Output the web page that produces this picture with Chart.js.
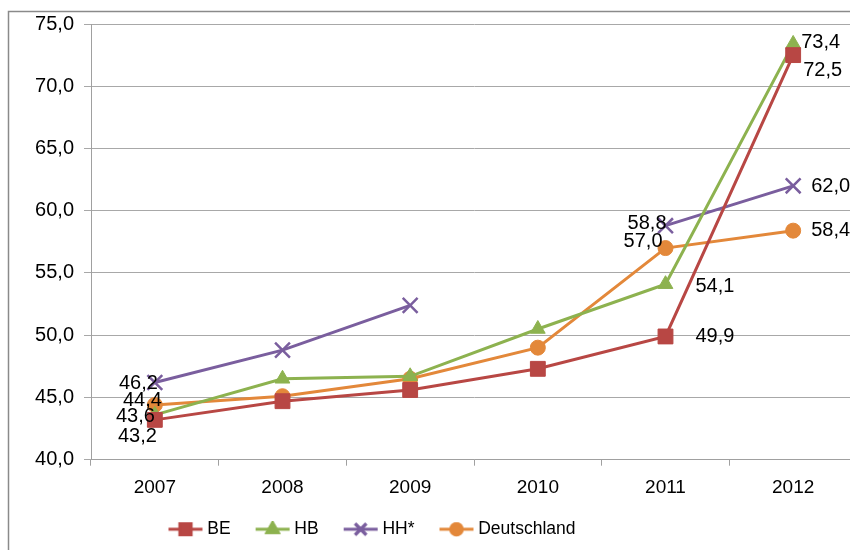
<!DOCTYPE html>
<html lang="de">
  <head>
    <meta charset="UTF-8" />
    <title>BE, HB, HH* und Deutschland 2007-2012</title>
    <script src="https://cdn.jsdelivr.net/npm/chart.js"></script>
    <style>
      html, body { margin: 0; padding: 0; background: #fff; overflow: hidden; }
      .wrap { position: relative; width: 870px; height: 550px; }
    </style>
  </head>
  <body>
    <div class="wrap">
      <canvas id="lineChart" width="870" height="550"></canvas>
    </div>

    <script>
      // data
      const years = ["2007", "2008", "2009", "2010", "2011", "2012"];
      const seriesNames = ["BE", "HB", "HH*", "Deutschland"];
      const valuesBE = [43.2, 44.7, 45.6, 47.3, 49.9, 72.5];
      const valuesHB = [43.6, 46.5, 46.7, 50.5, 54.1, 73.4];
      const valuesHH = [46.2, 48.8, 52.4, null, 58.8, 62.0];
      const valuesDE = [44.4, 45.1, 46.5, 49.0, 57.0, 58.4];
      const yTicks = [40, 45, 50, 55, 60, 65, 70, 75];
      const labelledIndexes = [0, 4, 5];

      const colors = ["#B84744", "#8DB24F", "#7A5E9E", "#E3883A"];
      const pointStyles = ["rect", "triangle", "crossRot", "circle"];
      const pointSizes = [10.5, 8.5, 10.5, 7.5];

      // where each value label sits relative to its point
      const labelSpots = [
        { 0: [2, 17, "right"], 4: [30, 0, "left"], 5: [10, 15, "left"] },
        { 0: [0, 2, "right"], 4: [30, 2, "left"], 5: [8, -1, "left"] },
        { 0: [3, 1, "right"], 4: [1, -2, "right"], 5: [18, 1, "left"] },
        { 0: [7, -4, "right"], 4: [-3, -7, "right"], 5: [18, 0, "left"] },
      ];

      const fontFamily = "'Liberation Sans', Arial, sans-serif";
      const fmt = (v) => v.toFixed(1).replace(".", ",");

      // little line + marker picture for the legend
      function legendIcon(i) {
        const c = document.createElement("canvas");
        c.width = 36;
        c.height = 16;
        const g = c.getContext("2d");
        g.strokeStyle = colors[i];
        g.fillStyle = colors[i];
        g.lineWidth = 3;
        g.beginPath();
        g.moveTo(1, 8);
        g.lineTo(35, 8);
        g.stroke();
        Chart.helpers.drawPoint(g, { pointStyle: pointStyles[i], radius: pointSizes[i] * 0.75, borderWidth: 2 }, 18, 8);
        g.fill();
        g.stroke();
        return c;
      }

      const frame = {
        id: "frame",
        beforeDraw(chart) {
          const ctx = chart.ctx;
          ctx.save();
          ctx.strokeStyle = "#8a8a8a";
          ctx.lineWidth = 1.5;
          ctx.strokeRect(8.5, 11.5, 1000, 1000);
          ctx.restore();
        },
      };

      const valueLabels = {
        id: "valueLabels",
        afterDatasetsDraw(chart) {
          const ctx = chart.ctx;
          ctx.save();
          ctx.font = "20px " + fontFamily;
          ctx.fillStyle = "#000";
          ctx.textBaseline = "middle";
          chart.data.datasets.forEach((ds, di) => {
            const meta = chart.getDatasetMeta(di);
            labelledIndexes.forEach((i) => {
              const v = ds.data[i];
              const spot = labelSpots[di][i];
              if (v == null || !spot) return;
              const p = meta.data[i];
              ctx.textAlign = spot[2];
              ctx.fillText(fmt(v), p.x + spot[0], p.y + spot[1]);
            });
          });
          ctx.restore();
        },
      };

      // Excel centres the legend on a wider chart area than we can see
      const shiftLegend = {
        id: "shiftLegend",
        afterLayout(chart) {
          chart.legend.left -= 57;
          chart.legend.right -= 57;
          chart.legend.top -= 19;
          chart.legend.bottom -= 19;
        },
      };

      const allValues = [valuesBE, valuesHB, valuesHH, valuesDE];
      const datasets = seriesNames.map((name, i) => ({
        label: name,
        data: allValues[i],
        borderColor: colors[i],
        backgroundColor: colors[i],
        borderWidth: 3,
        pointStyle: pointStyles[i],
        pointRadius: pointSizes[i],
        pointHoverRadius: pointSizes[i],
        pointBorderWidth: i === 2 ? 2.5 : 1,
        spanGaps: false,
        tension: 0,
      }));

      const ctx = document.getElementById("lineChart").getContext("2d");
      const myLineChart = new Chart(ctx, {
        type: "line",
        data: { labels: years, datasets: datasets },
        options: {
          responsive: false,
          animation: false,
          layout: { padding: { top: 24, right: 8, bottom: -17, left: 0 } },
          plugins: {
            tooltip: { enabled: false },
            legend: {
              position: "bottom",
              labels: {
                usePointStyle: true,
                pointStyleWidth: 26,
                padding: 29,
                color: "#000",
                font: { family: fontFamily, size: 17.5 },
                generateLabels: (chart) =>
                  chart.data.datasets.map((ds, i) => ({
                    text: ds.label,
                    pointStyle: legendIcon(i),
                    fillStyle: colors[i],
                    strokeStyle: colors[i],
                    lineWidth: 0,
                    datasetIndex: i,
                    fontColor: "#000",
                  })),
              },
            },
          },
          scales: {
            x: {
              offset: true,
              grid: {
                offset: true,
                drawOnChartArea: false,
                tickLength: 6,
                color: "#a0a0a0",
              },
              border: { color: "#a0a0a0", width: 1 },
              ticks: {
                color: "#000",
                padding: 11,
                font: { family: fontFamily, size: 19 },
              },
            },
            y: {
              min: 40,
              max: 75,
              afterFit: (axis) => { axis.width = 91; },
              afterBuildTicks: (axis) => {
                axis.ticks = yTicks.map((v) => ({ value: v }));
              },
              grid: { color: "#a8a8a8", tickLength: 7 },
              border: { color: "#a0a0a0", width: 1 },
              ticks: {
                color: "#000",
                padding: 10,
                font: { family: fontFamily, size: 20 },
                callback: (v) => fmt(v),
              },
            },
          },
        },
        plugins: [frame, valueLabels, shiftLegend],
      });
    </script>
  </body>
</html>
